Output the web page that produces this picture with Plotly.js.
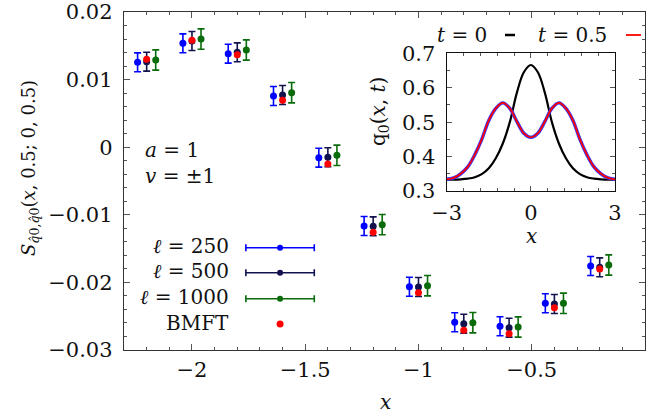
<!DOCTYPE html>
<html>
<head>
<meta charset="utf-8">
<script src="https://cdn.plot.ly/plotly-3.0.1.min.js"></script>
<style>
html,body{margin:0;padding:0;background:#fff;}
#chart{width:650px;height:419px;}
</style>
</head>
<body>
<div id="chart"></div>
<script>
// ---- main panel data ----
const xCenters = [-2.2, -2.0, -1.8, -1.6, -1.4, -1.2, -1.0, -0.8, -0.6, -0.4, -0.2];
const xOffset = 0.04;
const yL250  = [0.01256, 0.01537, 0.01383, 0.00757, -0.00155, -0.01166, -0.02064, -0.02590, -0.02649, -0.02309, -0.01757];
const yL500  = [0.01265, 0.01571, 0.01404, 0.00772, -0.00149, -0.01170, -0.02068, -0.02611, -0.02670, -0.02320, -0.01777];
const yL1000 = [0.01290, 0.01600, 0.01438, 0.00806, -0.00120, -0.01146, -0.02049, -0.02596, -0.02660, -0.02309, -0.01743];
const yBMFT  = [0.01300, 0.01581, 0.01368, 0.00694, -0.00249, -0.01259, -0.02152, -0.02709, -0.02759, -0.02374, -0.01802];
const err250  = [0.0014, 0.0014, 0.0014, 0.0014, 0.0014, 0.0014, 0.0014, 0.0014, 0.0014, 0.0014, 0.0014];
const err500  = [0.0014, 0.0014, 0.0014, 0.0014, 0.0014, 0.0014, 0.0014, 0.0014, 0.0014, 0.0014, 0.0014];
const err1000 = [0.0015, 0.0015, 0.0015, 0.0015, 0.0015, 0.0015, 0.0015, 0.0015, 0.0015, 0.0015, 0.0015];
const seriesNames = ['ℓ = 250', 'ℓ = 500', 'ℓ = 1000', 'BMFT'];
const xTickVals = [-2, -1.5, -1, -0.5, 0];
const yTickVals = [-0.03, -0.02, -0.01, 0, 0.01, 0.02];

// legend sample positions (in main-axis units)
const legendSampleX = -1.611;
const legendSampleHalfWidth = 0.151;
const legendSampleY = [-0.01487, -0.01857, -0.02241, -0.02615];

// ---- inset data ----
const insetX = [-3, -2.75, -2.5, -2.25, -2, -1.75, -1.5, -1.25, -1, -0.75, -0.5, -0.25, 0,
                0.25, 0.5, 0.75, 1, 1.25, 1.5, 1.75, 2, 2.25, 2.5, 2.75, 3];
const qT0   = [0.333, 0.333, 0.334, 0.336, 0.340, 0.349, 0.366, 0.395, 0.438, 0.500, 0.585, 0.645, 0.666,
               0.645, 0.585, 0.500, 0.438, 0.395, 0.366, 0.349, 0.340, 0.336, 0.334, 0.333, 0.333];
const qT05  = [0.334, 0.338, 0.350, 0.370, 0.405, 0.450, 0.505, 0.540, 0.556, 0.540, 0.502, 0.468, 0.456,
               0.468, 0.502, 0.540, 0.556, 0.540, 0.505, 0.450, 0.405, 0.370, 0.350, 0.338, 0.334];
const insetXTicks = [-3, 0, 3];
const insetYTicks = [0.3, 0.4, 0.5, 0.6, 0.7];

const FONT = 'DejaVu Serif';
const FS = 20;
const TFS = 21;
const colors = ['#0000ff', '#12124f', '#0a6b0a', '#ff0000'];

function shift(arr, d) { return arr.map(v => v + d); }

const traces = [];
const ys = [yL250, yL500, yL1000];
const errs = [err250, err500, err1000];
const offs = [-xOffset, 0, xOffset];
for (let i = 0; i < 3; i++) {
  traces.push({
    x: shift(xCenters, offs[i]), y: ys[i], type: 'scatter', mode: 'markers',
    name: seriesNames[i], showlegend: false,
    marker: {color: colors[i], size: 7},
    error_y: {type: 'data', array: errs[i], visible: true, color: colors[i], thickness: 1.6, width: 3.5},
    xaxis: 'x', yaxis: 'y'
  });
}
traces.push({
  x: xCenters, y: yBMFT, type: 'scatter', mode: 'markers', name: seriesNames[3], showlegend: false,
  marker: {color: colors[3], size: 7}, xaxis: 'x', yaxis: 'y'
});
// legend samples
for (let i = 0; i < 3; i++) {
  traces.push({
    x: [legendSampleX], y: [legendSampleY[i]], type: 'scatter', mode: 'markers', showlegend: false,
    hoverinfo: 'skip', marker: {color: colors[i], size: 6},
    error_x: {type: 'constant', value: legendSampleHalfWidth, visible: true, color: colors[i], thickness: 1.6, width: 3.5},
    xaxis: 'x', yaxis: 'y'
  });
}
traces.push({
  x: [legendSampleX], y: [legendSampleY[3]], type: 'scatter', mode: 'markers', showlegend: false,
  hoverinfo: 'skip', marker: {color: colors[3], size: 7}, xaxis: 'x', yaxis: 'y'
});
// inset curves
traces.push({x: insetX, y: qT0, type: 'scatter', mode: 'lines', line: {color: '#000', width: 2.2, shape: 'spline'},
  showlegend: false, xaxis: 'x2', yaxis: 'y2'});
traces.push({x: insetX, y: qT05, type: 'scatter', mode: 'lines', line: {color: '#3030ff', width: 3.4, shape: 'spline'},
  showlegend: false, xaxis: 'x2', yaxis: 'y2'});
traces.push({x: insetX, y: qT05, type: 'scatter', mode: 'lines', line: {color: '#ff0000', width: 1.8, shape: 'spline'},
  showlegend: false, xaxis: 'x2', yaxis: 'y2'});

const axisCommon = {
  showline: true, linecolor: '#333', linewidth: 1.2, mirror: 'allticks',
  ticks: 'inside', ticklen: 6, tickcolor: '#555', tickwidth: 1,
  showgrid: false, zeroline: false,
  tickfont: {family: FONT, size: TFS, color: '#111'}
};

// paper coordinates helpers (plot area: x 124..645, y 12..350)
const L = 124, R = 645, T = 12, B = 350;
const px = v => (v - L) / (R - L);
const py = v => (B - v) / (B - T);

const layout = {
  width: 650, height: 419,
  margin: {l: L, r: 650 - R, t: T, b: 419 - B, pad: 0},
  paper_bgcolor: '#fff', plot_bgcolor: 'rgba(0,0,0,0)',
  showlegend: false,
  font: {family: FONT, size: FS, color: '#111'},
  xaxis: Object.assign({}, axisCommon, {
    domain: [0, 1], range: [-2.3, 0], tickvals: xTickVals, ticklabelstandoff: 1,
    minor: {dtick: 0.1, ticks: 'inside', ticklen: 3, tickcolor: '#555', showgrid: false}
  }),
  yaxis: Object.assign({}, axisCommon, {
    domain: [0, 1], range: [-0.03, 0.02], tickvals: yTickVals, ticklabelstandoff: 6,
    minor: {dtick: 0.002, ticks: 'inside', ticklen: 3, tickcolor: '#555', showgrid: false}
  }),
  xaxis2: Object.assign({}, axisCommon, {
    domain: [px(446.7), px(615)], anchor: 'y2', range: [-3, 3], tickvals: insetXTicks, ticklen: 5,
    ticklabelstandoff: 3, linecolor: '#111',
    minor: {dtick: 0.6, ticks: 'inside', ticklen: 3, tickcolor: '#555', showgrid: false}
  }),
  yaxis2: Object.assign({}, axisCommon, {
    domain: [py(191), py(53.3)], anchor: 'x2', range: [0.3, 0.7], tickvals: insetYTicks, ticklen: 5,
    ticklabelstandoff: 6, linecolor: '#111',
    minor: {dtick: 0.05, ticks: 'inside', ticklen: 3, tickcolor: '#555', showgrid: false}
  }),
  shapes: [
    {type: 'rect', xref: 'paper', yref: 'paper', x0: px(446.7), x1: px(615), y0: py(191), y1: py(53.3),
     fillcolor: '#fff', line: {width: 0}, layer: 'below'},
    {type: 'line', xref: 'paper', yref: 'paper', x0: px(505), x1: px(515), y0: py(35), y1: py(35),
     line: {color: '#000', width: 2.5}},
    {type: 'line', xref: 'paper', yref: 'paper', x0: px(626), x1: px(641), y0: py(35), y1: py(35),
     line: {color: '#ff0000', width: 1.8}}
  ],
  annotations: [
    {xref: 'paper', yref: 'paper', x: px(30), y: py(168), textangle: -90, showarrow: false,
     xanchor: 'center', yanchor: 'middle', font: {size: 18},
     text: '<i>S</i><sub><i>q̂</i>0,<i>q̂</i>0</sub>(<i>x</i>, 0.5; 0, 0.5)'},
    {xref: 'paper', yref: 'paper', x: px(385), y: py(402), showarrow: false, xanchor: 'center', yanchor: 'middle',
     text: '<i>x</i>'},
    {xref: 'paper', yref: 'paper', x: px(143), y: py(150), showarrow: false, xanchor: 'left', yanchor: 'middle',
     text: '<i>a</i> = 1'},
    {xref: 'paper', yref: 'paper', x: px(143), y: py(176), showarrow: false, xanchor: 'left', yanchor: 'middle',
     text: '<i>v</i> = ±1'},
    {xref: 'paper', yref: 'paper', x: px(231), y: py(246), showarrow: false, xanchor: 'right', yanchor: 'middle',
     text: '<i>ℓ</i> = 250'},
    {xref: 'paper', yref: 'paper', x: px(231), y: py(271), showarrow: false, xanchor: 'right', yanchor: 'middle',
     text: '<i>ℓ</i> = 500'},
    {xref: 'paper', yref: 'paper', x: px(231), y: py(297), showarrow: false, xanchor: 'right', yanchor: 'middle',
     text: '<i>ℓ</i> = 1000'},
    {xref: 'paper', yref: 'paper', x: px(231), y: py(323), showarrow: false, xanchor: 'right', yanchor: 'middle',
     text: 'BMFT'},
    {xref: 'paper', yref: 'paper', x: px(531), y: py(236), showarrow: false, xanchor: 'center', yanchor: 'middle',
     text: '<i>x</i>'},
    {xref: 'paper', yref: 'paper', x: px(379), y: py(112), textangle: -90, showarrow: false,
     xanchor: 'center', yanchor: 'middle', text: 'q<sub>0</sub>(<i>x</i>, <i>t</i>)'},
    {xref: 'paper', yref: 'paper', x: px(435), y: py(35), showarrow: false, xanchor: 'left', yanchor: 'middle',
     text: '<i>t</i> = 0'},
    {xref: 'paper', yref: 'paper', x: px(536), y: py(35), showarrow: false, xanchor: 'left', yanchor: 'middle',
     text: '<i>t</i> = 0.5'}
  ]
};

Plotly.newPlot('chart', traces, layout, {staticPlot: true, displayModeBar: false});
</script>
</body>
</html>
